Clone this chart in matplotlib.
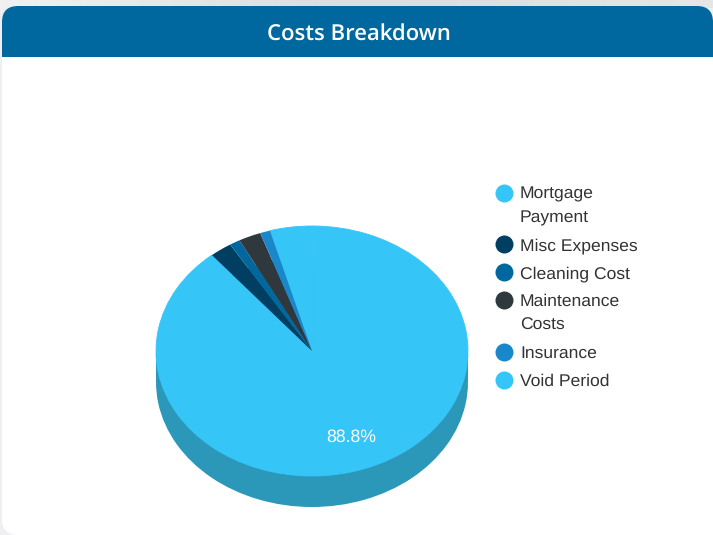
import math
import numpy as np
import matplotlib
matplotlib.use("Agg")
import matplotlib.pyplot as plt
from matplotlib.patches import FancyBboxPatch, Rectangle

title = "Costs Breakdown"
categories = ["Mortgage\nPayment", "Misc Expenses", "Cleaning Cost", "Maintenance\nCosts", "Insurance", "Void Period"]
values = [88.8, 2.3, 1.1, 2.3, 1.05, 4.45]
colors = ["#36C5F7", "#003F62", "#00689F", "#2F383C", "#1B87CB", "#36C5F7"]
side_color = "#2B97B9"

W, H = 713, 535
plt.rcParams["text.hinting"] = "none"
fig = plt.figure(figsize=(W / 100, H / 100), dpi=100, facecolor="#EFEFF1")

# pixel-space background layer
bg = fig.add_axes([0, 0, 1, 1], zorder=0)
bg.imshow(np.linspace(0, 1, 256)[None, :], extent=(0, W, 8, 0), aspect="auto",
          cmap=matplotlib.colors.LinearSegmentedColormap.from_list("g", ["#F1F1F2", "#DCDCE1", "#E6E6E8"]))
bg.set_xlim(0, W); bg.set_ylim(H, 0); bg.axis("off")
bg.add_patch(FancyBboxPatch((2, 6), W - 2, H - 6, boxstyle="round,pad=0,rounding_size=16",
                            fc="white", ec="none"))
bg.add_patch(Rectangle((W - 30, 480), 30, 55, fc="white", ec="none"))
bg.add_patch(FancyBboxPatch((2, 6), W - 2, 70, boxstyle="round,pad=0,rounding_size=16",
                            fc=colors[2], ec="none"))
bg.add_patch(Rectangle((2, 57), W - 2, 40, fc="white", ec="none"))
bg.text(359, 39.5, title, color="white", family="Open Sans", fontsize=15.9, weight="semibold",
        ha="center", va="baseline")

# pie layer: one unit = pie radius in x and y separately
cx, cy, rx, ry, depth = 312, 351, 156, 125, 31
start = 89.6
ax = fig.add_axes([0, 0, 1, 1], zorder=1)
ax.patch.set_alpha(0)
d = depth / ry
ax.pie(values, colors=[side_color] * len(values), startangle=start, counterclock=False,
       center=(0, -d), radius=1)
ax.add_patch(Rectangle((-1, -d), 2, d, fc=side_color, ec="none"))
wedges, _ = ax.pie(values, colors=colors, startangle=start, counterclock=False, radius=1)
ax.set_aspect("auto")
ax.set_xlim(-cx / rx, (W - cx) / rx)
ax.set_ylim((cy - H) / ry, cy / ry)
ax.axis("off")
for i, w in enumerate(wedges):
    w.set_zorder(3 if i in (0, 5) else 4)
    if i in (0, 5):
        # same-coloured neighbours: close the antialiasing seam between them
        w.set_edgecolor(colors[i])
        w.set_linewidth(0.6)

# percentage label for the largest slice
mid = math.radians(values[0] / 100 * 360 / 2)
ax.text(0.734 * math.sin(mid), 0.734 * math.cos(mid) - 4.8 / ry, f"{values[0]:.1f}%", color="white",
        family="Liberation Sans", fontsize=12.7, ha="center", va="baseline", zorder=5)

# legend
y = 192.5
for label, c in zip(categories, colors):
    bg.scatter([504], [y], s=168, color=c, linewidths=0, zorder=3)
    lines = label.split("\n")
    for i, line in enumerate(lines):
        bg.text(520, y + 6 + i * 23.5, line, color="#333333", family="Liberation Sans",
                fontsize=12.6, ha="left", va="baseline", zorder=3)
    y += 28 + (len(lines) - 1) * 23.5

fig.savefig("out.png", dpi=100, facecolor=fig.get_facecolor())
